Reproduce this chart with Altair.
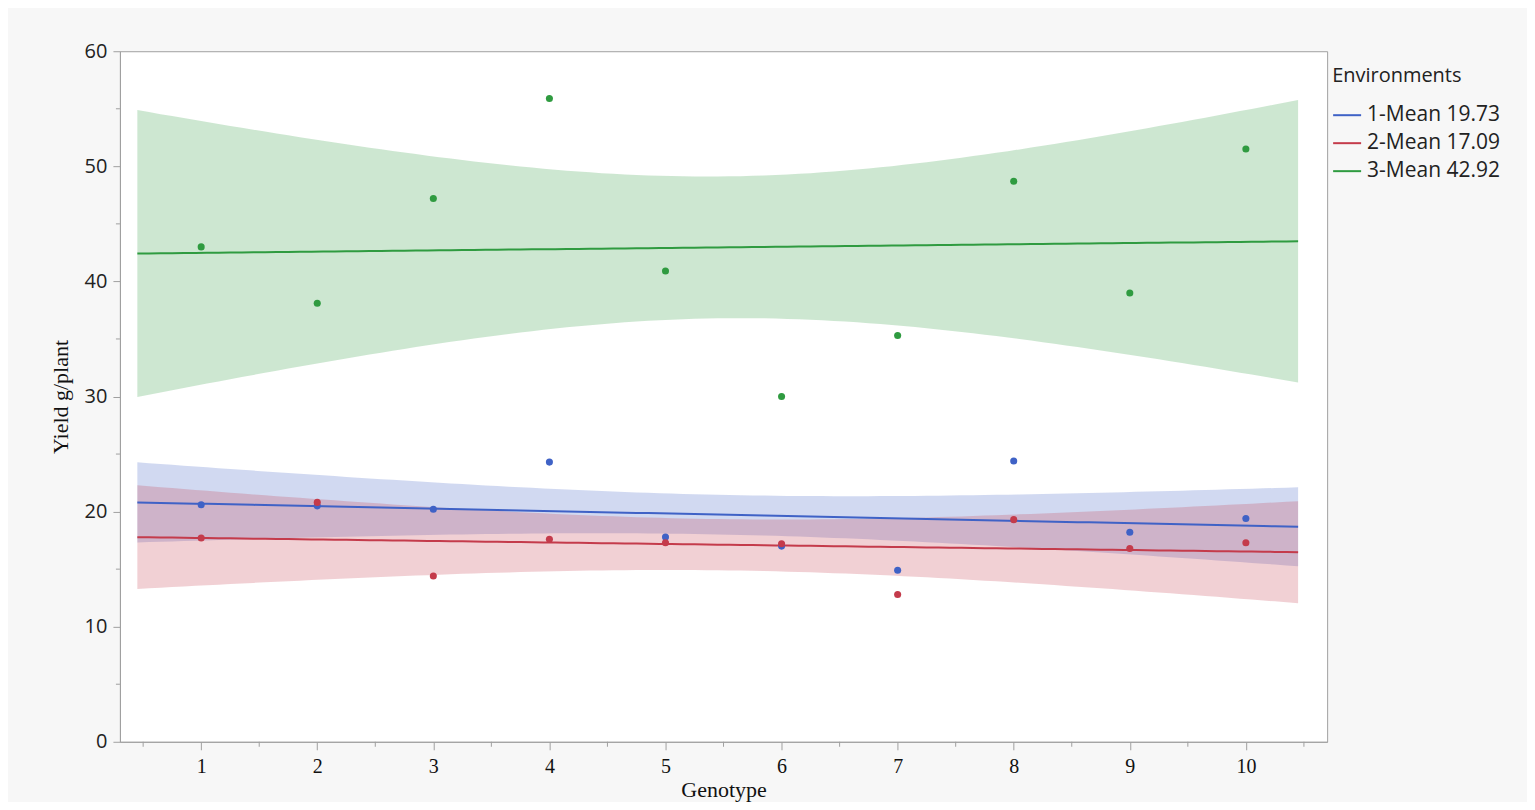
import altair as alt
import numpy as np
import pandas as pd

# ---------------- data ----------------
genotypes = [1, 2, 3, 4, 5, 6, 7, 8, 9, 10]
env_labels = ["1-Mean 19.73", "2-Mean 17.09", "3-Mean 42.92"]
env1 = [20.6, 20.5, 20.2, 24.3, 17.8, 17.0, 14.9, 24.4, 18.2, 19.4]
env2 = [17.7, 20.8, 14.4, 17.6, 17.3, 17.2, 12.8, 19.3, 16.8, 17.3]
env3 = [43.0, 38.1, 47.2, 55.9, 40.9, 30.0, 35.3, 48.7, 39.0, 51.5]
series = [env1, env2, env3]
# root-mean-square error of each fit
band_rmse = [2.36, 3.05, 8.45]

x_ticks = [1, 2, 3, 4, 5, 6, 7, 8, 9, 10]
x_minor = [0.5, 1.5, 2.5, 3.5, 4.5, 5.5, 6.5, 7.5, 8.5, 9.5, 10.5]
y_ticks = [0, 10, 20, 30, 40, 50, 60]
y_minor = [5, 15, 25, 35, 45, 55]

colors = ["#3f62c6", "#c43b4b", "#2f9b40"]
fit_range = [0.45, 10.45]
T_975_DF8 = 2.306  # t quantile for a 95% band with n-2 = 8 df

# ---------------- tables ----------------
pts_rows = []
band_rows = []
xs = np.array(genotypes, dtype=float)
n = len(xs)
xbar = xs.mean()
sxx = ((xs - xbar) ** 2).sum()
grid = np.linspace(fit_range[0], fit_range[1], 101)
for lab, ys, s in zip(env_labels, series, band_rmse):
    ys = np.array(ys, dtype=float)
    for g, v in zip(genotypes, ys):
        pts_rows.append({"Genotype": g, "Yield": v, "Env": lab})
    b1, b0 = np.polyfit(xs, ys, 1)
    for g in grid:
        f = b0 + b1 * g
        se = s * np.sqrt(1.0 / n + (g - xbar) ** 2 / sxx)
        band_rows.append({"Genotype": float(g), "fit": f,
                          "lo": f - T_975_DF8 * se, "hi": f + T_975_DF8 * se,
                          "Env": lab})
pts = pd.DataFrame(pts_rows)
band = pd.DataFrame(band_rows)

AX = "#a0a0a0"
xscale = alt.Scale(domain=[0.3, 10.7], nice=False, zero=False)
yscale = alt.Scale(domain=[0, 60], nice=False)
cscale = alt.Scale(domain=env_labels, range=colors)

xaxis = alt.Axis(values=x_ticks, format="d", title="Genotype", grid=False,
                 labelFont="Liberation Serif", labelFontSize=20, labelColor="#111",
                 titleFont="Liberation Serif", titleFontSize=22, titleFontWeight="normal",
                 titleColor="#111", titlePadding=3, tickSize=8, labelPadding=7,
                 domainColor=AX, tickColor=AX, labelFlush=False)
yaxis = alt.Axis(values=y_ticks, title="Yield g/plant", grid=False,
                 labelFont="Open Sans", labelFontSize=20, labelColor="#222",
                 titleFont="Liberation Serif", titleFontSize=22, titleFontWeight="normal",
                 titleColor="#111", titlePadding=12, tickSize=7, labelPadding=6,
                 domainColor=AX, tickColor=AX, labelFlush=False)
legend = alt.Legend(
    title="Environments", orient="none", legendX=1213, legendY=15,
    titleFont="Open Sans", titleFontSize=20, titleFontWeight="normal",
    titleColor="#222", titlePadding=14,
    labelFont="Open Sans", labelFontSize=21, labelColor="#222",
    symbolType="stroke", symbolStrokeWidth=2, symbolSize=784,
    symbolFillColor="transparent", symbolOpacity=1,
    rowPadding=3, labelOffset=5)

X = lambda f: alt.X(f, scale=xscale, axis=xaxis)
Y = lambda f: alt.Y(f, scale=yscale, axis=yaxis)
C = alt.Color("Env:N", scale=cscale, legend=legend)

bands = alt.Chart(band).mark_area(opacity=0.24).encode(
    x=X("Genotype:Q"), y=Y("lo:Q"), y2="hi:Q", color=C, detail="Env:N",
)
lines = alt.Chart(band).mark_line(strokeWidth=2).encode(
    x=X("Genotype:Q"), y=Y("fit:Q"), color=C,
)
points = alt.Chart(pts).mark_circle(size=50, opacity=1).encode(
    x=X("Genotype:Q"), y=Y("Yield:Q"), color=C,
)
minor_x = alt.Chart(pd.DataFrame({"v": x_minor})).mark_rule(color=AX).encode(
    x=X("v:Q"), y=alt.value(691), y2=alt.value(696),
)
minor_y = alt.Chart(pd.DataFrame({"v": y_minor})).mark_rule(color=AX).encode(
    y=Y("v:Q"), x=alt.value(-4), x2=alt.value(0),
)

chart = alt.layer(bands, lines, points, minor_x, minor_y).properties(
    width=1208, height=691,
    autosize=alt.AutoSizeParams(type="none"),
    padding={"left": 112, "top": 43, "right": 200, "bottom": 60},
    background="#f7f7f7",
).configure_view(stroke=AX, strokeWidth=1, fill="white")

chart.save("out.html", embed_options={"renderer": "svg", "actions": False})
